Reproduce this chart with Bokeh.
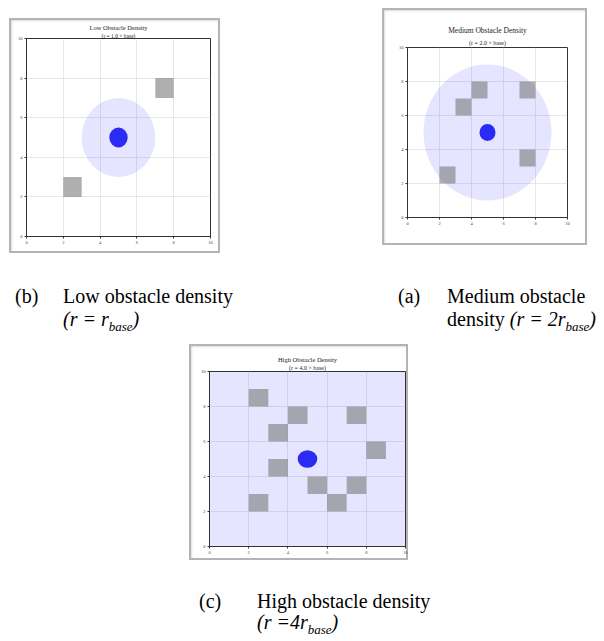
from bokeh.plotting import figure
from bokeh.models import Range1d, FixedTicker, Title, Div, Spacer
from bokeh.layouts import row, column
from bokeh.embed import file_html
from bokeh.resources import INLINE

# ---------------- data ----------------
ticks = [0, 2, 4, 6, 8, 10]
robot_x = [5.0]
robot_y = [5.0]
robot_size = 1.0
obstacle_size = 1.0

low_obs_x = [7.5, 2.5]
low_obs_y = [7.5, 2.5]
low_radius = 2.0

med_obs_x = [4.5, 3.5, 7.5, 7.5, 2.5]
med_obs_y = [7.5, 6.5, 7.5, 3.5, 2.5]
med_radius = 4.0

high_obs_x = [2.5, 4.5, 7.5, 3.5, 8.5, 3.5, 5.5, 7.5, 6.5, 2.5]
high_obs_y = [8.5, 7.5, 7.5, 6.5, 5.5, 4.5, 3.5, 3.5, 2.5, 2.5]
high_radius = 8.0

titles = ["Low Obstacle Density", "Medium Obstacle Density", "High Obstacle Density"]
subtitles = ["(r = 1.0 × base)", "(r = 2.0 × base)", "(r = 4.0 × base)"]

SERIF = "Liberation Serif"


def panel(w, h, borders, obs_x, obs_y, radius, title, subtitle, tsize, ssize,
          tgap=0, sgap=1):
    left, right, top, bottom = borders
    p = figure(width=w, height=h, output_backend="svg", toolbar_location=None,
               x_range=Range1d(0, 10), y_range=Range1d(0, 10),
               min_border_left=left, min_border_right=right,
               min_border_top=top, min_border_bottom=bottom)
    p.margin = 0
    p.styles = {"box-shadow": "inset 0 0 0 2px #b4b4b4, inset 1px 1px 2px 2px #dcdcdc",
                "background-color": "white"}
    p.background_fill_color = "white"
    p.border_fill_color = None
    p.outline_line_color = "#333333"
    p.outline_line_width = 1

    p.title.text = title
    p.title.align = "center"
    p.title.text_font = SERIF
    p.title.text_font_size = tsize
    p.title.text_font_style = "normal"
    p.title.text_color = "#222222"
    p.title.standoff = tgap
    p.add_layout(Title(text=subtitle, align="center", text_font=SERIF,
                       text_font_size=ssize, text_font_style="normal",
                       text_color="#222222", standoff=sgap), "above")

    for ax in (p.xaxis[0], p.yaxis[0]):
        ax.ticker = FixedTicker(ticks=ticks)
        ax.major_label_text_font_size = "4.5px"
        ax.major_label_text_font = SERIF
        ax.major_label_text_color = "#444444"
        ax.major_label_standoff = 2
        ax.major_tick_out = 2
        ax.major_tick_in = 0
        ax.minor_tick_out = 0
        ax.minor_tick_in = 0
        ax.axis_line_color = "#333333"
        ax.major_tick_line_color = "#333333"
    p.grid.ticker = FixedTicker(ticks=ticks)
    p.grid.grid_line_color = "#d8d8d8"
    p.grid.grid_line_width = 0.6

    p.ellipse(x=robot_x, y=robot_y, width=2 * radius, height=2 * radius,
              fill_color="#0000ff", fill_alpha=0.10, line_color=None)
    p.rect(x=obs_x, y=obs_y, width=obstacle_size, height=obstacle_size,
           fill_color="#7a7a7a", fill_alpha=0.6, line_color=None)
    p.ellipse(x=robot_x, y=robot_y, width=robot_size, height=robot_size,
              fill_color="#2b2bf5", line_color=None)
    return p


p1 = panel(211, 235, (17, 10, 20, 17), low_obs_x, low_obs_y, low_radius,
           titles[0], subtitles[0], "6.5px", "5.5px", tgap=0, sgap=0)
p2 = panel(205, 237, (25, 20, 39, 28), med_obs_x, med_obs_y, med_radius,
           titles[1], subtitles[1], "7.5px", "6px", tgap=4, sgap=3)
p3 = panel(219, 216, (20, 3, 27, 14), high_obs_x, high_obs_y, high_radius,
           titles[2], subtitles[2], "6.5px", "6px", tgap=0, sgap=1)

FONT = "font-family:'Liberation Serif','Times New Roman',serif;font-size:20px;line-height:20px;color:#000;white-space:nowrap;"


def span(x, y, html):
    return f'<span style="position:absolute;left:{x}px;top:{y}px;{FONT}">{html}</span>'


cap1_html = ('<div style="position:relative;width:596px;height:91px;">'
             + span(15, 33, "(b)")
             + span(63, 33, "Low obstacle density")
             + span(63, 56, "<i>(r = r<sub style='font-size:13px'>base</sub>)</i>")
             + span(398, 33, "(a)")
             + span(447, 33, "Medium obstacle")
             + span(447, 56, "density <i>(r = 2r<sub style='font-size:13px'>base</sub>)</i>")
             + '</div>')
cap2_html = ('<div style="position:relative;width:596px;height:73px;">'
             + span(199, 31, "(c)")
             + span(257, 31, "High obstacle density")
             + span(257, 52, "<i>(r =4r<sub style='font-size:13px'>base</sub>)</i>")
             + '</div>')

cap1 = Div(text=cap1_html, width=596, height=91, margin=0)
cap2 = Div(text=cap2_html, width=596, height=73, margin=0)

top = row(Spacer(width=9, height=253, margin=0),
          column(Spacer(width=211, height=18, margin=0), p1, margin=0),
          Spacer(width=162, height=253, margin=0),
          column(Spacer(width=205, height=8, margin=0), p2, margin=0),
          margin=0)
mid = row(Spacer(width=189, height=216, margin=0), p3, margin=0)
layout = column(top, cap1, mid, cap2, margin=0)

open("out.html", "w").write(file_html(layout, INLINE))
